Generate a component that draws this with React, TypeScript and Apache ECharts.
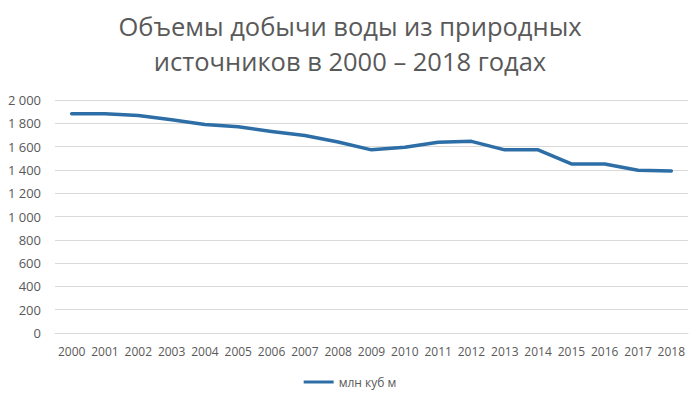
import React, { useEffect, useRef } from "react";
import * as echarts from "echarts";

const years = ["2000","2001","2002","2003","2004","2005","2006","2007","2008","2009","2010","2011","2012","2013","2014","2015","2016","2017","2018"];
const volumes = [1882, 1882, 1866, 1830, 1790, 1770, 1730, 1695, 1640, 1572, 1595, 1637, 1645, 1572, 1572, 1451, 1451, 1397, 1390];
const titleText = "Объемы добычи воды из природных\nисточников в 2000 – 2018 годах";
const seriesName = "млн куб м";

const fmt = (v: number) => {
  const s = String(v);
  return s.length > 3 ? s.slice(0, s.length - 3) + " " + s.slice(-3) : s;
};

export default function App() {
  const ref = useRef<HTMLDivElement>(null);
  useEffect(() => {
    const chart = echarts.init(ref.current!, null, { renderer: "svg" });
    chart.setOption({
      animation: false,
      backgroundColor: "#ffffff",
      textStyle: { fontFamily: "Open Sans, sans-serif" },
      title: {
        text: titleText,
        left: "center",
        top: 3,
        textStyle: { fontSize: 25.5, fontWeight: "normal", color: "#595959", lineHeight: 35, fontFamily: "Open Sans, sans-serif" },
      },
      legend: {
        bottom: 4,
        left: "center",
        icon: "rect",
        itemWidth: 30,
        itemHeight: 3,
        itemGap: 10,
        textStyle: { color: "#595959", fontSize: 12 },
        data: [seriesName],
      },
      grid: { left: 55, right: 12, top: 100, bottom: 64, containLabel: false },
      xAxis: {
        type: "category",
        data: years,
        boundaryGap: true,
        axisLine: { show: true, lineStyle: { color: "#d9d9d9" } },
        axisTick: { show: false },
        axisLabel: { color: "#595959", fontSize: 12, margin: 12, interval: 0 },
      },
      yAxis: {
        type: "value",
        min: 0,
        max: 2000,
        interval: 200,
        axisLine: { show: false },
        axisTick: { show: false },
        splitLine: { lineStyle: { color: "#d9d9d9", width: 1 } },
        axisLabel: { color: "#595959", fontSize: 13, margin: 14, formatter: (v: number) => fmt(v) },
      },
      series: [
        {
          name: seriesName,
          type: "line",
          data: volumes,
          symbol: "none",
          lineStyle: { color: "#2e6ea6", width: 3.5, cap: "round", join: "round" },
          itemStyle: { color: "#2e6ea6" },
        },
      ],
    });
    return () => chart.dispose();
  }, []);
  return <div ref={ref} style={{ width: 700, height: 397, position: "absolute", left: 0, top: 0 }} />;
}
